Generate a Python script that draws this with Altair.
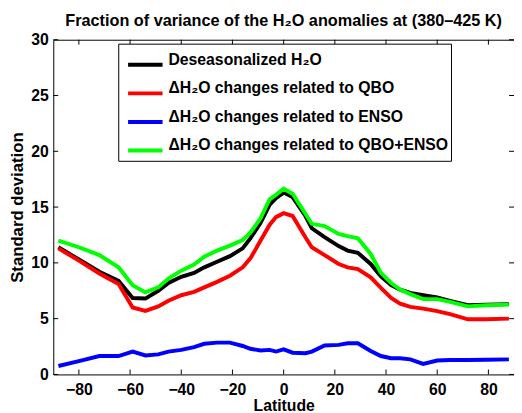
import altair as alt
import pandas as pd

# Latitude grid (degrees)
lat = [-88, -80, -72, -64.5, -59, -54, -49, -45, -40, -35, -31, -26, -21, -16, -13, -9,
       -5.5, -3, 0, 3.5, 8.5, 11, 16, 21.5, 25, 29, 34, 38, 42, 45.5, 49.5, 54.5, 60, 65,
       72, 79, 88]

deseason = [11.4, 10.3, 9.2, 8.4, 6.85, 6.8, 7.5, 8.2, 8.75, 9.1, 9.6, 10.1, 10.6, 11.3,
            12.2, 13.6, 15.2, 15.8, 16.3, 15.9, 14.2, 13.1, 12.3, 11.5, 11.1, 10.9, 9.9,
            8.8, 8.0, 7.6, 7.3, 7.1, 6.9, 6.6, 6.2, 6.25, 6.3]

qbo = [11.3, 10.2, 9.05, 8.1, 6.0, 5.7, 6.1, 6.6, 7.1, 7.4, 7.8, 8.3, 8.85, 9.6, 10.4,
       12.0, 13.4, 14.1, 14.45, 14.2, 12.3, 11.4, 10.7, 9.9, 9.6, 9.45, 8.7, 7.75, 6.85,
       6.35, 6.05, 5.9, 5.67, 5.4, 4.94, 4.95, 5.0]

enso = [0.76, 1.2, 1.65, 1.65, 2.05, 1.7, 1.8, 2.05, 2.2, 2.45, 2.75, 2.85, 2.85, 2.55,
        2.3, 2.15, 2.2, 2.05, 2.25, 1.95, 1.9, 2.05, 2.6, 2.65, 2.8, 2.8, 2.1, 1.65, 1.45,
        1.45, 1.35, 0.95, 1.25, 1.3, 1.3, 1.32, 1.35]

qbo_enso = [12.0, 11.4, 10.7, 9.6, 8.0, 7.35, 7.8, 8.6, 9.3, 9.85, 10.55, 11.1, 11.55,
            12.05, 12.7, 14.0, 15.7, 16.1, 16.65, 16.2, 14.4, 13.5, 13.3, 12.6, 12.4, 12.2,
            10.8, 9.1, 8.2, 7.6, 7.2, 6.75, 6.75, 6.5, 6.1, 6.2, 6.26]

series_names = [
    "Deseasonalized H\u2082O",
    "\u0394H\u2082O changes related to QBO",
    "\u0394H\u2082O changes related to ENSO",
    "\u0394H\u2082O changes related to QBO+ENSO",
]
colors = ["#000000", "#ff0000", "#0000ff", "#00ff00"]

x_ticks = [-80, -60, -40, -20, 0, 20, 40, 60, 80]
y_ticks = [0, 5, 10, 15, 20, 25, 30]

rows = []
for name, vals in zip(series_names, [deseason, qbo, enso, qbo_enso]):
    for la, v in zip(lat, vals):
        rows.append({"lat": la, "value": v, "series": name})
df = pd.DataFrame(rows)

W, H = 468, 340
FONT = "Liberation Sans"
FS = 16
xscale = alt.Scale(domain=[-90, 90], nice=False, zero=False)
yscale = alt.Scale(domain=[0, 30], nice=False, zero=False)

xaxis = alt.Axis(title="Latitude", values=x_ticks, ticks=False, domain=False,
                 grid=False, labelPadding=7, titlePadding=1)
yaxis = alt.Axis(title="Standard deviation", values=y_ticks, ticks=False,
                 domain=False, grid=False, labelPadding=5, titlePadding=4,
                 titleFontSize=17)

lines = alt.Chart(df).mark_line(strokeWidth=4, clip=True).encode(
    x=alt.X("lat:Q", scale=xscale, axis=xaxis),
    y=alt.Y("value:Q", scale=yscale, axis=yaxis),
    color=alt.Color("series:N",
                    scale=alt.Scale(domain=series_names, range=colors),
                    legend=alt.Legend(title=None, orient="none", legendX=66, legendY=4,
                                      symbolType="stroke", symbolStrokeWidth=4,
                                      symbolSize=1225, labelFontSize=16, labelFont=FONT,
                                      labelFontWeight="bold", labelColor="black",
                                      labelBaseline="alphabetic", labelOffset=4,
                                      symbolOffset=6,
                                      padding=2, rowPadding=1, strokeColor="black",
                                      fillColor="white", labelLimit=400)),
)

xt = pd.DataFrame({"lat": x_ticks})
yt = pd.DataFrame({"value": y_ticks})

tick_bottom = alt.Chart(xt).mark_rule(color="black", strokeWidth=1).encode(
    x=alt.X("lat:Q", scale=xscale, axis=xaxis), y=alt.value(H), y2=alt.value(H - 5))
tick_top = alt.Chart(xt).mark_rule(color="black", strokeWidth=1).encode(
    x=alt.X("lat:Q", scale=xscale, axis=xaxis), y=alt.value(0), y2=alt.value(5))
tick_left = alt.Chart(yt).mark_rule(color="black", strokeWidth=1).encode(
    y=alt.Y("value:Q", scale=yscale, axis=yaxis), x=alt.value(0), x2=alt.value(5))
tick_right = alt.Chart(yt).mark_rule(color="black", strokeWidth=1).encode(
    y=alt.Y("value:Q", scale=yscale, axis=yaxis), x=alt.value(W), x2=alt.value(W - 5))

chart = alt.layer(lines, tick_bottom, tick_top, tick_left, tick_right).properties(
    width=W, height=H,
    title=alt.Title("Fraction of variance of the H\u2082O anomalies at (380\u2013425 K)",
                    fontSize=16.5, fontWeight="bold", font=FONT, color="black",
                    offset=2, anchor="middle"),
    autosize=alt.AutoSizeParams(type="none"),
    padding={"left": 46, "top": 29, "right": 0, "bottom": 40},
).configure_view(stroke="black", strokeWidth=1).configure_axis(
    labelFont=FONT, labelFontSize=FS, labelFontWeight="bold", labelColor="black",
    titleFont=FONT, titleFontSize=FS, titleFontWeight="bold", titleColor="black",
)

chart.save("out.html", embed_options={"renderer": "svg", "actions": False})
